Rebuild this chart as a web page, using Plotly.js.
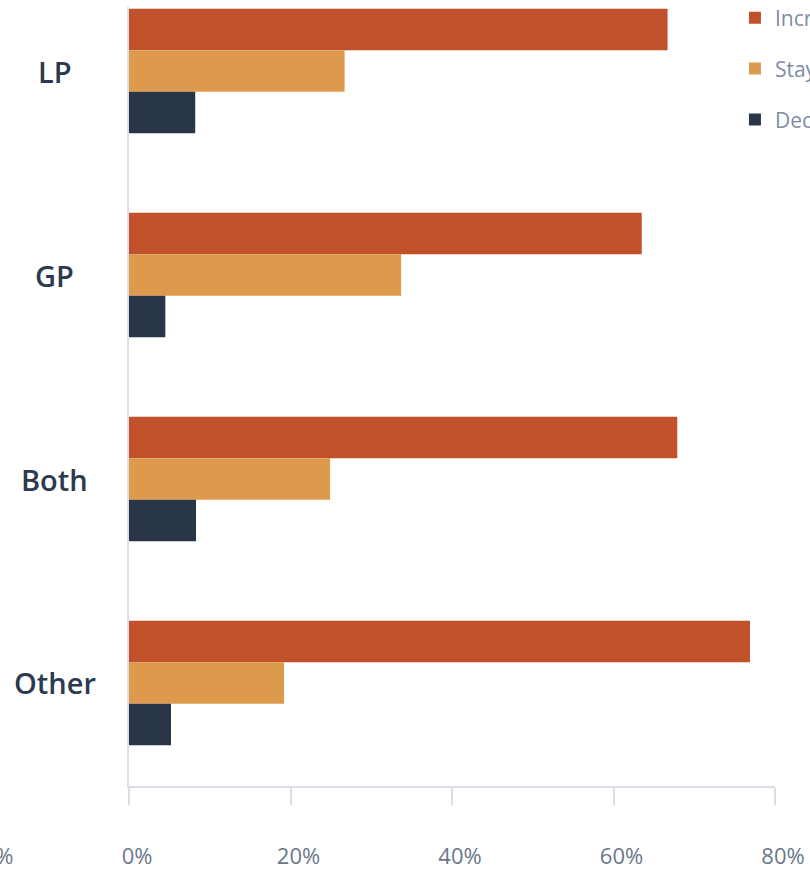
<!DOCTYPE html>
<html>
<head>
<meta charset="utf-8">
<script src="https://cdn.plot.ly/plotly-3.0.1.min.js"></script>
<style>html,body{margin:0;padding:0;background:#fff;overflow:hidden}#chart{width:810px;height:869px}</style>
</head>
<body>
<div id="chart"></div>
<script>
const categories = ["LP", "GP", "Both", "Other"];
const seriesNames = ["Increase", "Stay the same", "Decrease"];
const increase = [66.7, 63.5, 67.9, 76.9];
const staySame = [26.7, 33.7, 24.9, 19.2];
const decrease = [8.2, 4.5, 8.3, 5.2];
const tickValues = [0, 20, 40, 60, 80];
const tickLabels = ["0%", "20%", "40%", "60%", "80%"];
const cutTickLabel = "-20%";

const colors = ["#c0512a", "#dd9a4c", "#283647"];
const values = [increase, staySame, decrease];

const traces = values.map((v, i) => ({
  type: "bar",
  orientation: "h",
  name: seriesNames[i],
  x: v,
  y: categories,
  marker: {color: colors[i], line: {width: 0}},
  legendgroup: "g" + i,
  hoverinfo: "x+name"
}));

const annotations = categories.map(c => ({
  xref: "paper", yref: "y", x: -0.115, y: c,
  text: c, showarrow: false, xanchor: "center", yanchor: "middle",
  font: {family: "Open Sans, sans-serif", size: 29, color: "#2b3a4e", weight: 600}
}));
annotations.push({
  xref: "paper", yref: "paper", x: 15 / 646 - 129 / 646, y: 0,
  yshift: -69, text: cutTickLabel, showarrow: false, xanchor: "right", yanchor: "middle",
  font: {family: "Open Sans, sans-serif", size: 22, color: "#6b7889"}
});

const layout = {
  width: 810, height: 869,
  margin: {l: 129, r: 35, t: 7, b: 83, autoexpand: false},
  paper_bgcolor: "#fff", plot_bgcolor: "#fff",
  barmode: "group",
  bargap: 0.39,
  bargroupgap: 0,
  showlegend: true,
  legend: {
    x: 0.938, y: 1.012, xanchor: "left", yanchor: "top",
    traceorder: "grouped", tracegroupgap: 20.5,
    font: {family: "Open Sans, sans-serif", size: 21, color: "#7f8ca6"},
    bgcolor: "rgba(0,0,0,0)"
  },
  xaxis: {
    range: [0, 80], tickvals: tickValues, ticktext: tickLabels,
    showgrid: false, zeroline: false,
    showline: true, linecolor: "#dadee7", linewidth: 2,
    ticks: "outside", ticklen: 17, tickwidth: 2, tickcolor: "#dadee7",
    ticklabelstandoff: 33, ticklabelshift: 8,
    tickfont: {family: "Open Sans, sans-serif", size: 22, color: "#6b7889"},
    fixedrange: true
  },
  yaxis: {
    type: "category", categoryorder: "array", categoryarray: categories,
    range: [3.505, -0.314],
    showgrid: false, zeroline: false,
    showline: true, linecolor: "#dadee7", linewidth: 2,
    showticklabels: false, ticks: "",
    fixedrange: true
  },
  annotations: annotations
};

Plotly.newPlot("chart", traces, layout, {displayModeBar: false, staticPlot: true});
</script>
</body>
</html>
